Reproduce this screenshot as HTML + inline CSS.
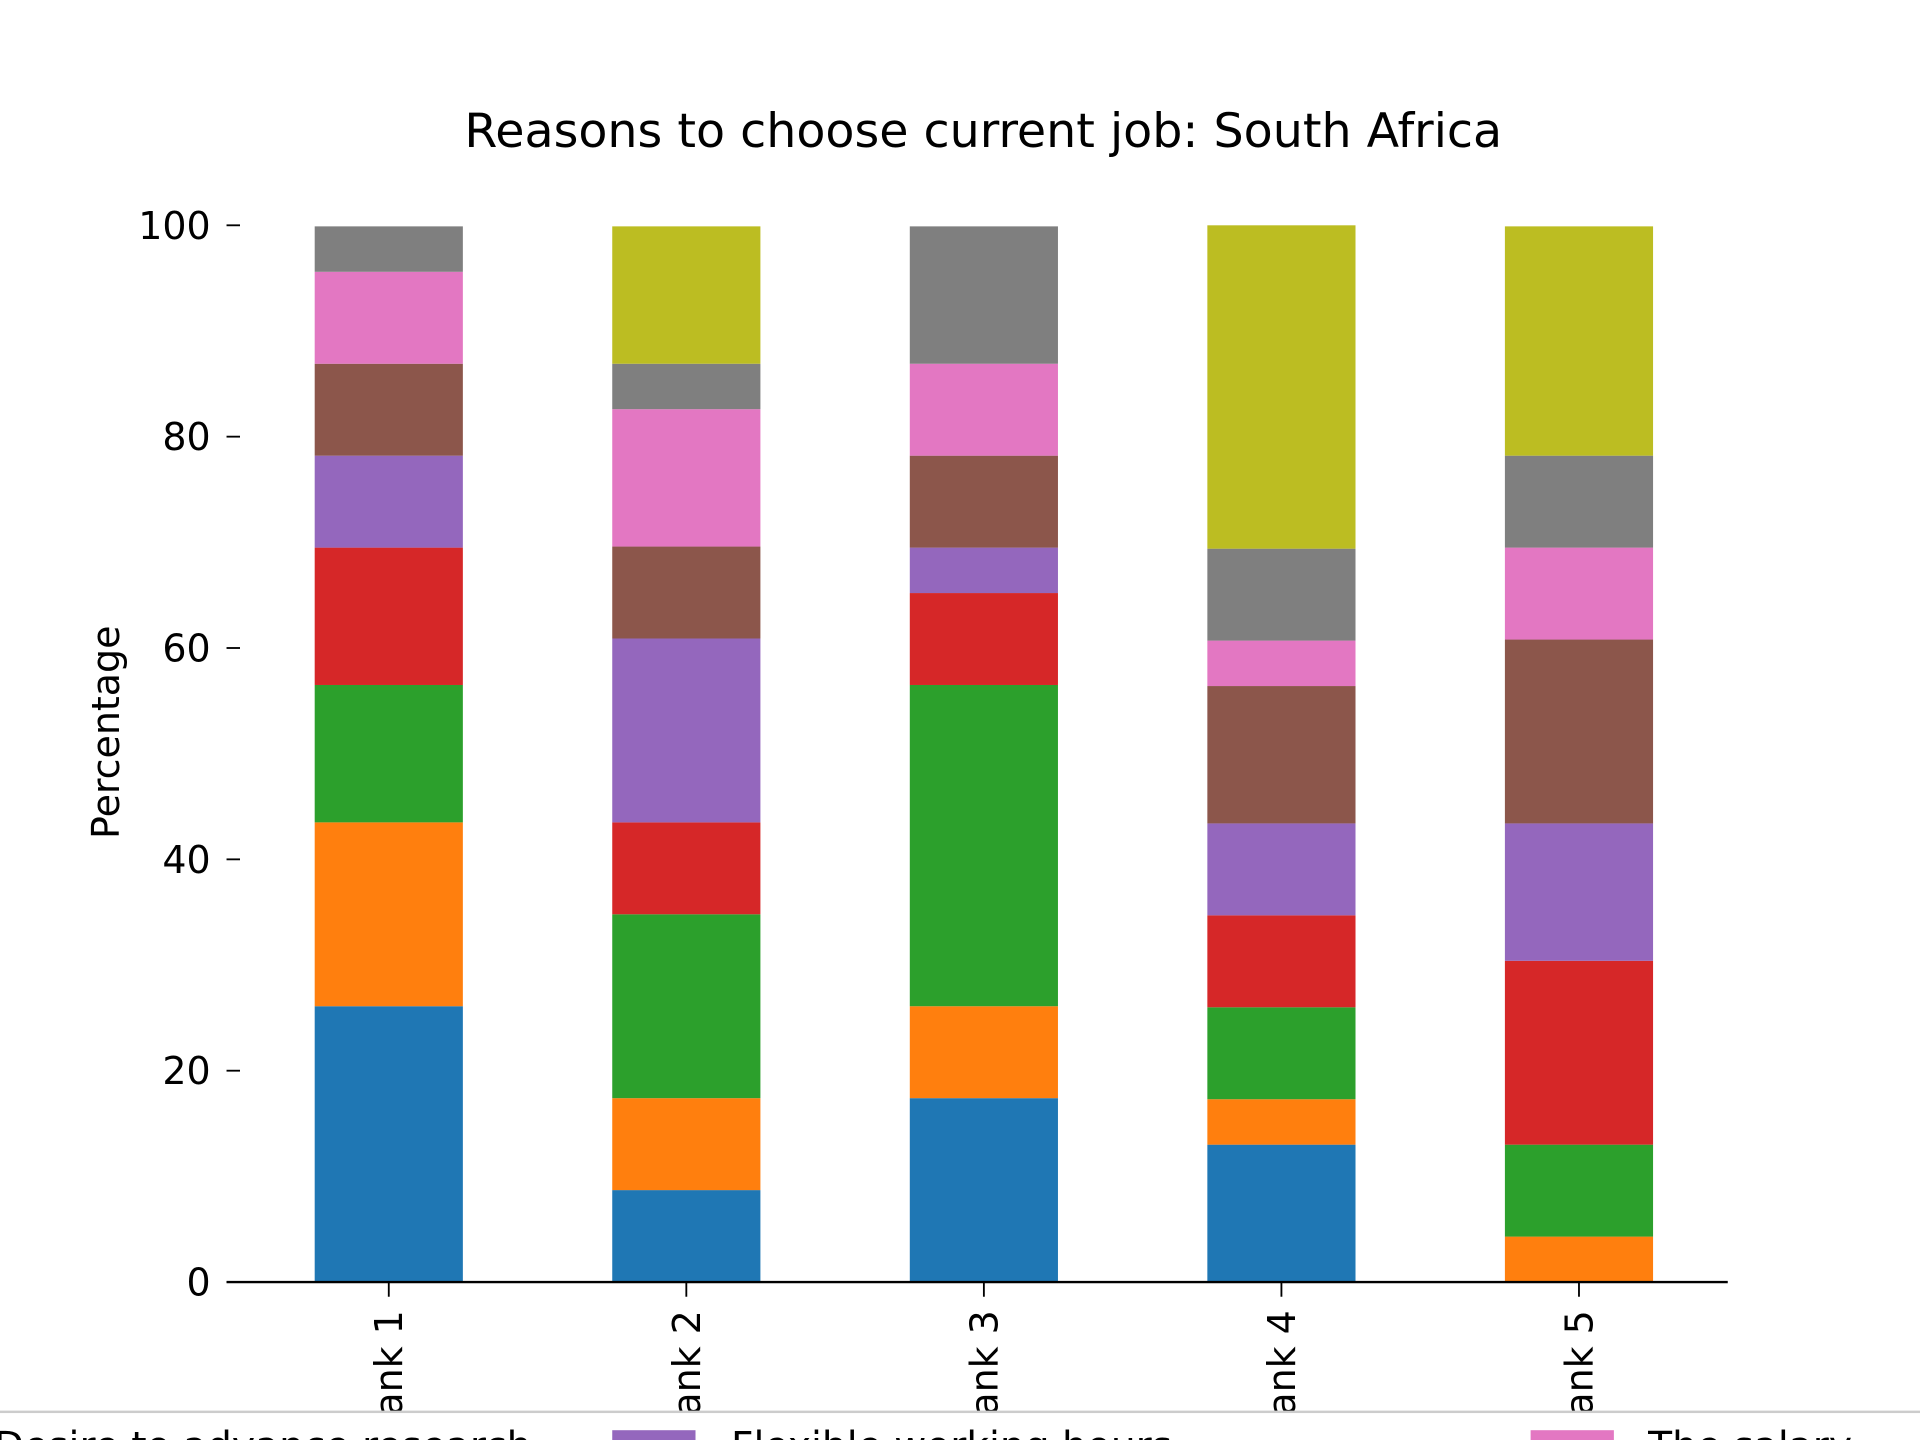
<!DOCTYPE html>
<html><head><meta charset="utf-8"><style>html,body{margin:0;padding:0;background:#fff}svg{display:block}text{font-family:"DejaVu Sans","Liberation Sans",sans-serif;fill:#000}</style></head>
<body>
<svg id="chart" width="1920" height="1440" viewBox="0 0 1568 1176" xmlns="http://www.w3.org/2000/svg">
<rect width="1568" height="1176" fill="#fff"/>
<text x="803" y="120" font-size="38.8" text-anchor="middle">Reasons to choose current job: South Africa</text>
<text transform="translate(97,598) rotate(-90)" font-size="31" text-anchor="middle">Percentage</text>
<g id="bars"></g><g id="yaxis"></g><g id="xaxis"></g>
<line x1="185" x2="1411" y1="1047" y2="1047" stroke="#000" stroke-width="2"/>
<rect x="-10" y="1153" width="1600" height="40" fill="#fff" stroke="#cccccc" stroke-width="2"/>
<rect x="500" y="1168" width="68" height="20" fill="#9467bd"/>
<rect x="1250" y="1168" width="68" height="20" fill="#e377c2"/>
<text x="-5" y="1192" font-size="32">Desire to advance research</text>
<text x="597" y="1192" font-size="32">Flexible working hours</text>
<text x="1346" y="1192" font-size="32">The salary</text>
</svg>
<script>
const categories = ["Rank 1","Rank 2","Rank 3","Rank 4","Rank 5"];
const sBlue   = [26.1, 8.7, 17.4, 13.0, 0];
const sOrange = [17.4, 8.7, 8.7, 4.3, 4.3];
const sGreen  = [13.0, 17.4, 30.4, 8.7, 8.7];
const sRed    = [13.0, 8.7, 8.7, 8.7, 17.4];
const sPurple = [8.7, 17.4, 4.3, 8.7, 13.0];
const sBrown  = [8.7, 8.7, 8.7, 13.0, 17.4];
const sPink   = [8.7, 13.0, 8.7, 4.3, 8.7];
const sGray   = [4.3, 4.3, 13.0, 8.7, 8.7];
const sOlive  = [0, 13.0, 0, 30.6, 21.7];
const yTicks = [0, 20, 40, 60, 80, 100];

const series = [sBlue,sOrange,sGreen,sRed,sPurple,sBrown,sPink,sGray,sOlive];
const colors = ["#1f77b4","#ff7f0e","#2ca02c","#d62728","#9467bd","#8c564b","#e377c2","#7f7f7f","#bcbd22"];
const names = ["blue","orange","green","red","purple","brown","pink","gray","olive"];
const NS="http://www.w3.org/2000/svg";
const y = v => 1047 - v*(863/100);
const x = i => 317.5 + i*243;
const bw = 121;
const bars=document.getElementById('bars');
categories.forEach((c,i)=>{
  let acc=0;
  series.forEach((s,k)=>{
    const v=s[i]; if(!v) return;
    const r=document.createElementNS(NS,'rect');
    
    
    r.setAttribute('x',x(i)-bw/2); r.setAttribute('width',bw);
    r.setAttribute('y',y(acc+v)); r.setAttribute('height',y(acc)-y(acc+v));
    r.setAttribute('fill',colors[k]);
    bars.appendChild(r); acc+=v;
  });
});
const ya=document.getElementById('yaxis');
yTicks.forEach(t=>{
  const l=document.createElementNS(NS,'line');
  
  
  l.setAttribute('x1',185);l.setAttribute('x2',196);l.setAttribute('y1',y(t));l.setAttribute('y2',y(t));
  l.setAttribute('stroke','#000');l.setAttribute('stroke-width','1.5');
  ya.appendChild(l);
  const tx=document.createElementNS(NS,'text');
  
  
  tx.setAttribute('x',172);tx.setAttribute('y',y(t)+11);tx.setAttribute('font-size','31');tx.setAttribute('text-anchor','end');
  tx.textContent=t; ya.appendChild(tx);
});
const xa=document.getElementById('xaxis');
categories.forEach((c,i)=>{
  const l=document.createElementNS(NS,'line');
  
  
  l.setAttribute('x1',x(i));l.setAttribute('x2',x(i));l.setAttribute('y1',1047);l.setAttribute('y2',1059);
  l.setAttribute('stroke','#000');l.setAttribute('stroke-width','1.5');
  xa.appendChild(l);
  const tx=document.createElementNS(NS,'text');
  
  
  tx.setAttribute('transform','translate('+(x(i)+11)+',1070) rotate(-90)');
  tx.setAttribute('font-size','31');tx.setAttribute('text-anchor','end');
  tx.textContent=c; xa.appendChild(tx);
});
</script>
</body></html>
